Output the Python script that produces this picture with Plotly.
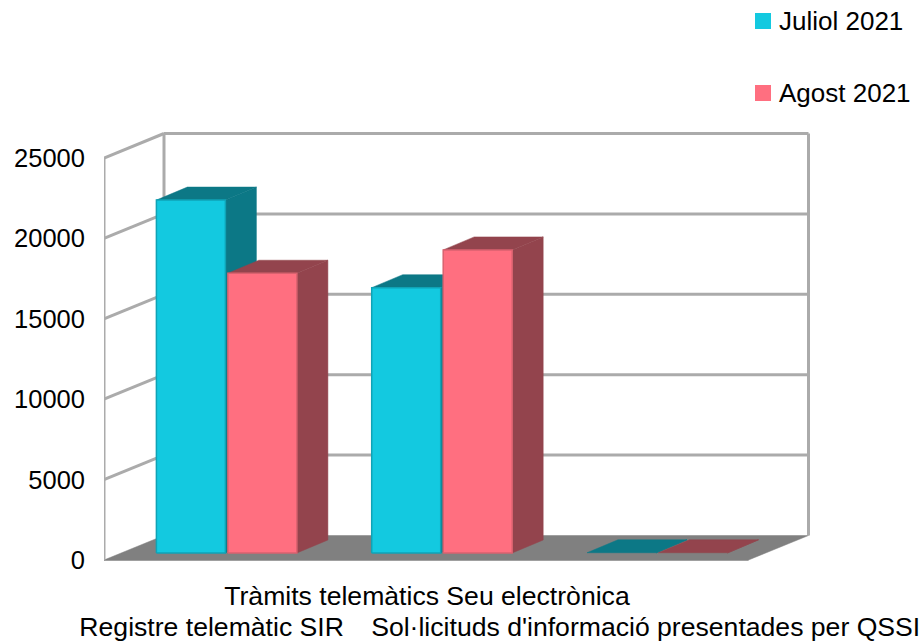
import plotly.graph_objects as go

categories = ["Registre telemàtic SIR", "Tràmits telemàtics Seu electrònica",
              "Sol·licituds d'informació presentades per QSSI"]
upper_row = [1]        # category indices labelled on the upper row
lower_row = [0, 2]     # category indices labelled on the lower row
juliol = [21950, 16500, 15]
agost = [17400, 18850, 15]
y_ticks = [0, 5000, 10000, 15000, 20000, 25000]

FONT = dict(family="Liberation Sans", size=26, color="#000000")
VALUE_FONT = dict(family="Liberation Sans", size=25.5, color="#000000")
CAT_FONT = dict(family="Liberation Sans", size=26.6, color="#000000")
WALL = "#ababab"
FLOOR = "#808080"
SERIES = [
    dict(name="Juliol 2021", values=juliol, front="#13c9e0", side="#0c7886", rim="#0fa3b6", offset=-1),
    dict(name="Agost 2021", values=agost, front="#ff6f80", side="#93444d", rim="#d9626f", offset=1),
]

# Plot frame in pixels, and the scale of each axis inside it.
W, H = 920, 642
L, R, T, B = 104, 812, 130, 565
X_UNIT = 215.3     # pixels per category
Y_UNIT = 62.19     # value units per pixel
Y_ZERO_PX = 560

# Oblique projection: how far "into the page" shifts a point, in axis units.
WALL_DX, WALL_DY = 60 / X_UNIT, 24.5 * Y_UNIT
BAR_SHIFT_DX, BAR_SHIFT_DY = 15 / X_UNIT, 7 * Y_UNIT
BAR_DEPTH_DX, BAR_DEPTH_DY = 31 / X_UNIT, 13 * Y_UNIT
BAR_W = 69 / X_UNIT
BAR_GAP = 2.5 / X_UNIT
X0, X1 = -0.5, -0.5 + 644.5 / X_UNIT
Y_TOP = y_ticks[-1]
X_RANGE = [X0, X0 + (R - L) / X_UNIT]


def poly(xs, ys, fill, line=None, width=0, name=None):
    return go.Scatter(
        x=xs + xs[:1], y=ys + ys[:1], mode="lines", fill="toself", fillcolor=fill,
        line=dict(color=line or fill, width=width or 0.5), cliponaxis=False,
        showlegend=False, hoverinfo="skip" if name is None else "name", name=name,
    )


def wall_line(xs, ys, width=3):
    return go.Scatter(x=xs, y=ys, mode="lines", line=dict(color=WALL, width=width),
                      cliponaxis=False, showlegend=False, hoverinfo="skip")


fig = go.Figure()

# Floor
fig.add_trace(wall_line([X0, X1], [0, 0], 2))
fig.add_trace(poly([X0, X1, X1 + WALL_DX, X0 + WALL_DX], [0, 0, WALL_DY, WALL_DY], FLOOR))

# Back wall gridlines and side wall slants
for v in y_ticks[1:]:
    fig.add_trace(wall_line([X0 + WALL_DX, X1 + WALL_DX], [v + WALL_DY] * 2))
for v in y_ticks[1:]:
    fig.add_trace(wall_line([X0, X0 + WALL_DX], [v, v + WALL_DY]))
fig.add_trace(wall_line([X0, X0], [0, Y_TOP]))
fig.add_trace(wall_line([X0 + WALL_DX] * 2, [WALL_DY, Y_TOP + WALL_DY]))
fig.add_trace(wall_line([X1 + WALL_DX] * 2, [WALL_DY, Y_TOP + WALL_DY]))

# Boxes, painted back to front within each group
for i in range(len(categories)):
    for s in SERIES:
        v = s["values"][i]
        cx = i + BAR_SHIFT_DX + s["offset"] * (BAR_W + BAR_GAP) / 2
        x0, x1 = cx - BAR_W / 2, cx + BAR_W / 2
        y0, y1 = BAR_SHIFT_DY, BAR_SHIFT_DY + v
        dx, dy = BAR_DEPTH_DX, BAR_DEPTH_DY
        fig.add_trace(poly([x1, x1 + dx, x1 + dx, x1], [y0, y0 + dy, y1 + dy, y1], s["side"]))
        fig.add_trace(poly([x0, x1, x1 + dx, x0 + dx], [y1, y1, y1 + dy, y1 + dy], s["side"]))
        if v > 100:
            fig.add_trace(poly([x0, x1, x1, x0], [y0, y0, y1, y1], s["front"], s["rim"], 1.5,
                               name=s["name"]))

# Invisible carrier so the second category axis gets drawn
fig.add_trace(go.Scatter(x=lower_row, y=[0, 0], xaxis="x2", mode="lines", line=dict(width=0),
                         showlegend=False, hoverinfo="skip"))

fig.update_layout(
    width=W, height=H,
    margin=dict(l=L, r=W - R, t=T, b=H - B, autoexpand=False),
    paper_bgcolor="white", plot_bgcolor="white",
    font=FONT, showlegend=False,
    xaxis=dict(range=X_RANGE, tickmode="array", tickvals=upper_row,
               ticktext=[categories[i] for i in upper_row], tickangle=0, showgrid=False,
               zeroline=False, showline=False, ticks="", tickfont=CAT_FONT, ticklabelstandoff=12,
               ticklabeloverflow="allow"),
    xaxis2=dict(range=X_RANGE, overlaying="x", anchor="y", side="bottom", tickmode="array",
                tickvals=[0, 2.016], ticktext=[categories[i] for i in lower_row], tickangle=0,
                showgrid=False, zeroline=False, showline=False, ticks="", tickfont=CAT_FONT,
                ticklabelstandoff=43, ticklabeloverflow="allow"),
    yaxis=dict(range=[(Y_ZERO_PX - B) * Y_UNIT, (Y_ZERO_PX - T) * Y_UNIT], tickmode="array",
               tickvals=y_ticks, ticktext=[str(v) for v in y_ticks], showgrid=False,
               zeroline=False, showline=False, ticks="", tickfont=VALUE_FONT, ticklabelstandoff=18),
)

# Series key, top right
KEY_PX = [(13, 21.5), (85, 93)]
for s, (top, mid) in zip(SERIES, KEY_PX):
    fig.add_shape(type="rect", xref="paper", yref="paper", line=dict(width=0), fillcolor=s["front"],
                  x0=(755 - L) / (R - L), x1=(771 - L) / (R - L),
                  y0=(B - top - 16) / (B - T), y1=(B - top) / (B - T))
    fig.add_annotation(text=s["name"], xref="paper", yref="paper", showarrow=False,
                       x=(779 - L) / (R - L), y=(B - mid) / (B - T), xanchor="left", yanchor="middle",
                       font=FONT, xshift=-2)

fig.write_html("out.html")
